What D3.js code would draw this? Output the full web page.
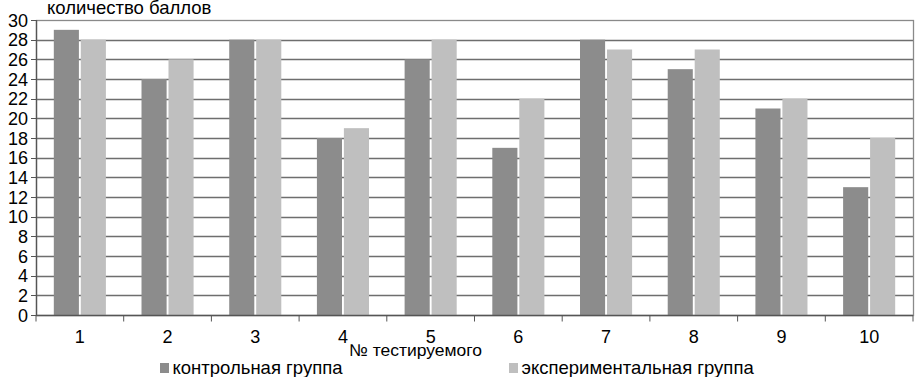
<!DOCTYPE html>
<html>
<head>
<meta charset="utf-8">
<script src="https://cdn.jsdelivr.net/npm/d3@7"></script>
<style>
    body { margin: 0; background: #fff; }
    svg { display: block; font-family: "Liberation Sans", Arial, sans-serif; }
</style>
</head>
<body>
<div class="chart"></div>
<script>
    // данные с картинки
    const categories = ['1', '2', '3', '4', '5', '6', '7', '8', '9', '10']
    const control = [29, 24, 28, 18, 26, 17, 28, 25, 21, 13]
    const experiment = [28, 26, 28, 19, 28, 22, 27, 27, 22, 18]
    const seriesNames = ['контрольная группа', 'экспериментальная группа']
    const yTicks = [0, 2, 4, 6, 8, 10, 12, 14, 16, 18, 20, 22, 24, 26, 28, 30]

    const width = 918
    const height = 377
    const mLeft = 36, mRight = 913, mTop = 20, mBottom = 315
    const colors = ['#8c8c8c', '#bfbfbf']

    const svg = d3.select('.chart')
        .append('svg')
        .attr('width', width)
        .attr('height', height)

    const x = d3.scaleBand()
        .domain(categories)
        .range([mLeft, mRight])
        .paddingInner(0)
        .paddingOuter(0)

    const xInner = d3.scaleBand()
        .domain([0, 1])
        .range([0, x.bandwidth()])
        .paddingInner(0.07)
        .paddingOuter(0.66)

    const y = d3.scaleLinear()
        .domain([0, 30])
        .range([mBottom, mTop])

    // сетка
    svg.append('g')
        .selectAll('line')
        .data(yTicks.filter(d => d > 0 && d < 30))
        .enter()
        .append('line')
        .attr('x1', mLeft)
        .attr('x2', mRight)
        .attr('y1', d => Math.round(y(d)) + 0.5)
        .attr('y2', d => Math.round(y(d)) + 0.5)
        .attr('stroke', '#6e6e6e')
        .attr('stroke-width', 1.3)

    // рамка
    svg.append('rect')
        .attr('x', mLeft + 0.5)
        .attr('y', mTop + 0.5)
        .attr('width', mRight - mLeft)
        .attr('height', mBottom - mTop)
        .attr('fill', 'none')
        .attr('stroke', '#8a8a8a')
        .attr('stroke-width', 1.3)

    // столбцы
    const groups = svg.append('g')
        .selectAll('g')
        .data(categories)
        .enter()
        .append('g')
        .attr('transform', d => 'translate(' + x(d) + ',0)')

    groups.selectAll('rect')
        .data((d, i) => [control[i], experiment[i]])
        .enter()
        .append('rect')
        .attr('x', (d, j) => xInner(j))
        .attr('width', xInner.bandwidth())
        .attr('y', d => y(d))
        .attr('height', d => y(0) - y(d))
        .attr('fill', (d, j) => colors[j])

    // оси
    const xAxis = svg.append('g')
        .attr('transform', 'translate(0,' + (mBottom + 0.5) + ')')
    xAxis.append('line')
        .attr('x1', mLeft).attr('x2', mRight)
        .attr('stroke', '#555').attr('stroke-width', 1.3)
    xAxis.selectAll('line.t')
        .data(categories.concat(['end']))
        .enter()
        .append('line')
        .attr('class', 't')
        .attr('x1', (d, i) => mLeft + i * x.step())
        .attr('x2', (d, i) => mLeft + i * x.step())
        .attr('y1', 0).attr('y2', 6)
        .attr('stroke', '#555')
    xAxis.selectAll('text')
        .data(categories)
        .enter()
        .append('text')
        .attr('x', d => x(d) + x.bandwidth() / 2)
        .attr('y', 27)
        .attr('text-anchor', 'middle')
        .attr('font-size', 18)
        .text(d => d)

    const yAxis = svg.append('g')
    yAxis.append('line')
        .attr('x1', mLeft + 0.5).attr('x2', mLeft + 0.5)
        .attr('y1', mTop).attr('y2', mBottom)
        .attr('stroke', '#555').attr('stroke-width', 1.3)
    yAxis.selectAll('line.t')
        .data(yTicks)
        .enter()
        .append('line')
        .attr('class', 't')
        .attr('x1', mLeft - 5).attr('x2', mLeft)
        .attr('y1', d => Math.round(y(d)) + 0.5)
        .attr('y2', d => Math.round(y(d)) + 0.5)
        .attr('stroke', '#555')
    yAxis.selectAll('text')
        .data(yTicks)
        .enter()
        .append('text')
        .attr('x', 28)
        .attr('y', d => y(d) + 6.5)
        .attr('text-anchor', 'end')
        .attr('font-size', 18)
        .text(d => d)

    // подписи осей
    svg.append('text')
        .attr('x', 47)
        .attr('y', 14)
        .attr('font-size', 18.5)
        .text('количество баллов')

    svg.append('text')
        .attr('x', 349)
        .attr('y', 356)
        .attr('font-size', 17)
        .attr('textLength', 133)
        .attr('lengthAdjust', 'spacingAndGlyphs')
        .text('№ тестируемого')

    // легенда
    const legendX = [160, 509]
    const legend = svg.append('g')
        .selectAll('g')
        .data(seriesNames)
        .enter()
        .append('g')
        .attr('transform', (d, i) => 'translate(' + legendX[i] + ',363)')
    legend.append('rect')
        .attr('width', 9).attr('height', 10)
        .attr('fill', (d, i) => colors[i])
    legend.append('text')
        .attr('x', 12.5)
        .attr('y', 10.5)
        .attr('font-size', 18.5)
        .text(d => d)
</script>
</body>
</html>
